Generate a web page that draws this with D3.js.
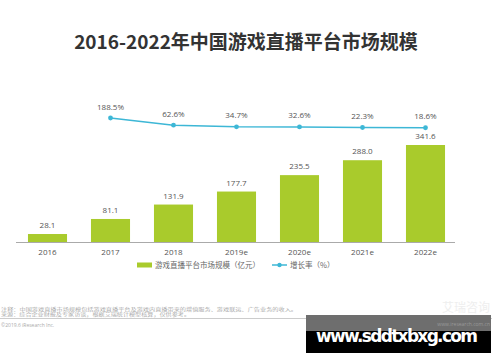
<!DOCTYPE html>
<html>
<head>
<meta charset="utf-8">
<script src="https://cdn.jsdelivr.net/npm/d3@7/dist/d3.min.js"></script>
<style>
  body { margin: 0; background: #fff; }
  svg { display: block; font-family: "Noto Sans CJK SC", "Open Sans", sans-serif; }
</style>
</head>
<body>
<svg id="chart" width="500" height="362"></svg>
<script>
const years = ['2016', '2017', '2018', '2019e', '2020e', '2021e', '2022e'];
const marketSize = [28.1, 81.1, 131.9, 177.7, 235.5, 288.0, 341.6];
// growth starts at 2017
const growthYears = ['2017', '2018', '2019e', '2020e', '2021e', '2022e'];
const growthRate = [188.5, 62.6, 34.7, 32.6, 22.3, 18.6];

const title = '2016-2022年中国游戏直播平台市场规模';
const legendLabels = ['游戏直播平台市场规模（亿元）', '增长率（%）'];
const notes = [
  '注释：中国游戏直播市场规模包括游戏直播平台及游戏内直播带来的增值服务、游戏联运、广告业务的收入。',
  '来源：综合企业财报及专家访谈，根据艾瑞统计模型核算，仅供参考。',
];
const noteWidths = [296, 189];

const barColor = '#a9cb2c';
const lineColor = '#3db7d6';

const svg = d3.select('#chart');

svg.append('text')
  .attr('x', 246)
  .attr('y', 49)
  .attr('text-anchor', 'middle')
  .style('font-size', '19px')
  .style('font-weight', 'bold')
  .style('fill', '#333')
  .text(title);

const x = d3.scaleBand()
  .domain(years)
  .range([16, 457])
  .paddingInner(0.38)
  .paddingOuter(0.19);

const baseY = 242;
const yBar = d3.scaleLinear()
  .domain([0, d3.max(marketSize)])
  .range([baseY, 145]);

const yLine = d3.scaleLinear()
  .domain([0, d3.max(growthRate)])
  .range([128.8, 118]);

// bars
svg.append('g')
  .selectAll('rect')
  .data(marketSize)
  .join('rect')
    .attr('x', (d, i) => x(years[i]))
    .attr('y', d => yBar(d))
    .attr('width', x.bandwidth())
    .attr('height', d => baseY - yBar(d))
    .style('fill', barColor);

// bar value labels
svg.append('g')
  .selectAll('text')
  .data(marketSize)
  .join('text')
    .attr('x', (d, i) => x(years[i]) + x.bandwidth() / 2)
    .attr('y', d => yBar(d) - 6)
    .attr('text-anchor', 'middle')
    .style('font-size', '8px')
    .style('fill', '#555')
    .style('font-family', '"Open Sans", sans-serif')
    .text(d => d.toFixed(1));

// x axis
const xAxis = svg.append('g')
  .attr('transform', `translate(0,${baseY})`)
  .call(d3.axisBottom(x).tickSize(0).tickPadding(7));
xAxis.select('.domain')
  .attr('d', 'M16,0.5H455')
  .style('stroke', '#aaa');
xAxis.selectAll('text')
  .style('font-size', '8px')
  .style('fill', '#555')
  .style('font-family', '"Open Sans", sans-serif');

// growth line
const cx = d => x(d) + x.bandwidth() / 2;
const line = d3.line()
  .x((d, i) => cx(growthYears[i]))
  .y(d => yLine(d));

svg.append('path')
  .datum(growthRate)
  .attr('d', line)
  .style('fill', 'none')
  .style('stroke', lineColor)
  .style('stroke-width', 1.6);

svg.append('g')
  .selectAll('circle')
  .data(growthRate)
  .join('circle')
    .attr('cx', (d, i) => cx(growthYears[i]))
    .attr('cy', d => yLine(d))
    .attr('r', 2.4)
    .style('fill', lineColor);

svg.append('g')
  .selectAll('text')
  .data(growthRate)
  .join('text')
    .attr('x', (d, i) => cx(growthYears[i]))
    .attr('y', d => yLine(d) - 8.5)
    .attr('text-anchor', 'middle')
    .style('font-size', '8px')
    .style('fill', '#555')
    .style('font-family', '"Open Sans", sans-serif')
    .text(d => d.toFixed(1) + '%');

// legend
const legend = svg.append('g').attr('transform', 'translate(0,265)');
legend.append('rect')
  .attr('x', 137).attr('y', -2.5)
  .attr('width', 15).attr('height', 5)
  .style('fill', barColor);
legend.append('text')
  .attr('x', 155).attr('y', 2.7)
  .style('font-size', '7.5px')
  .style('fill', '#666')
  .text(legendLabels[0]);
legend.append('line')
  .attr('x1', 272).attr('x2', 287)
  .style('stroke', lineColor)
  .style('stroke-width', 1.5);
legend.append('circle')
  .attr('cx', 279.5).attr('r', 2.2)
  .style('fill', lineColor);
legend.append('text')
  .attr('x', 290).attr('y', 2.7)
  .style('font-size', '7.5px')
  .style('fill', '#666')
  .text(legendLabels[1]);

// footer
const footer = svg.append('g');
footer.selectAll('text.note')
  .data(notes)
  .join('text')
    .attr('class', 'note')
    .attr('x', 1)
    .attr('y', (d, i) => 310.5 + i * 5.3)
    .attr('textLength', (d, i) => noteWidths[i])
    .attr('lengthAdjust', 'spacingAndGlyphs')
    .style('font-size', '4.4px')
    .style('fill', '#aaa')
    .text(d => d);
footer.append('line')
  .attr('x1', 0).attr('x2', 492)
  .attr('y1', 318.5).attr('y2', 318.5)
  .style('stroke', '#ccc')
  .style('stroke-width', 1);
footer.append('text')
  .attr('x', 1).attr('y', 326.5)
  .style('font-size', '5px')
  .style('fill', '#aaa')
  .style('font-family', '"Open Sans", sans-serif')
  .text('©2019.6 iResearch Inc.');
footer.append('text')
  .attr('x', 490).attr('y', 312)
  .attr('text-anchor', 'end')
  .style('font-size', '12px')
  .style('fill', '#eee')
  .text('艾瑞咨询');

// watermark box
const wm = svg.append('g');
wm.append('rect')
  .attr('x', 306).attr('y', 315)
  .attr('width', 185).attr('height', 38)
  .style('fill', '#000');
wm.append('rect')
  .attr('x', 306).attr('y', 315)
  .attr('width', 185).attr('height', 16)
  .style('fill', '#6e6e6e');
wm.append('text')
  .attr('x', 490).attr('y', 326)
  .attr('text-anchor', 'end')
  .style('font-size', '5px')
  .style('fill', '#999')
  .style('font-family', '"Open Sans", sans-serif')
  .text('www.iresearch.com.cn');
wm.append('text')
  .attr('x', 397).attr('y', 342)
  .attr('text-anchor', 'middle')
  .style('font-size', '17px')
  .style('font-weight', 'bold')
  .style('fill', '#fff')
  .style('font-family', '"DejaVu Sans", sans-serif')
  .attr('textLength', 162)
  .text('www.sddtxbxg.com');
</script>
</body>
</html>
